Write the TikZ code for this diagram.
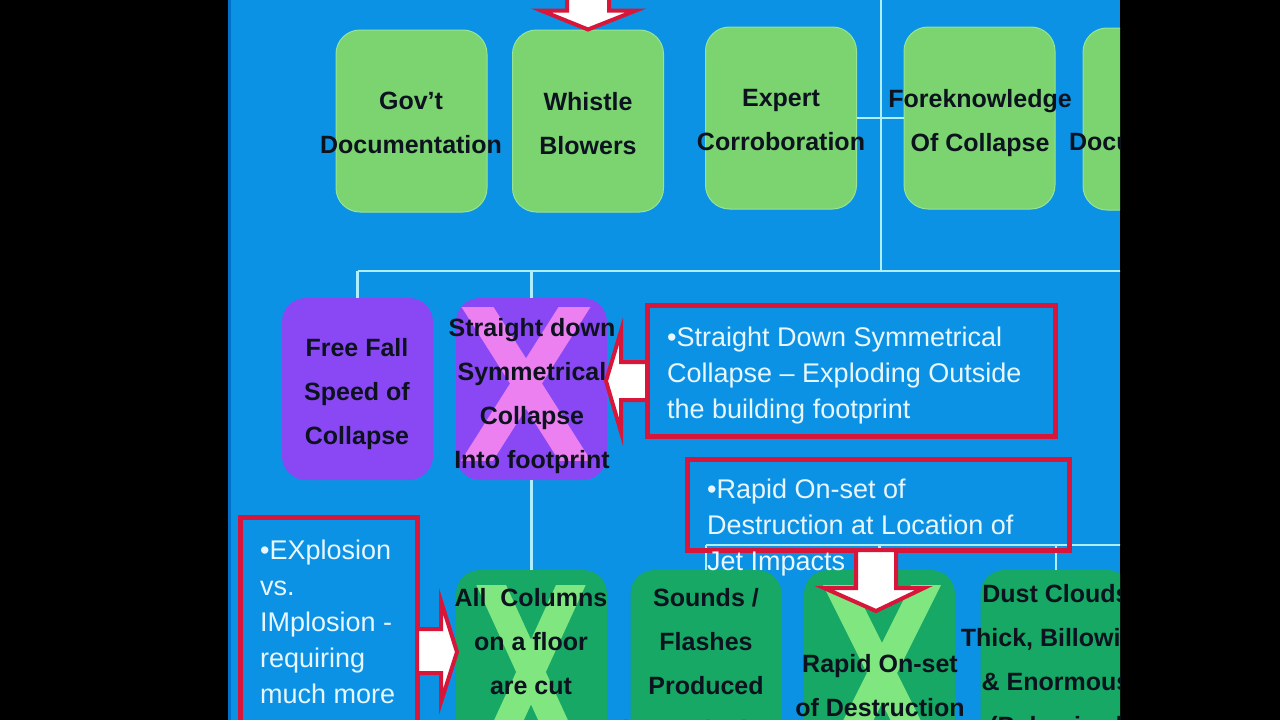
\documentclass[tikz,border=0pt]{standalone}
\usepackage{fontspec}
\setmainfont{Liberation Sans}
\definecolor{bg}{RGB}{12,146,228}
\definecolor{bgdark}{RGB}{0,112,200}
\definecolor{linec}{RGB}{175,238,255}
\definecolor{lgreen}{RGB}{124,212,112}
\definecolor{gedge}{RGB}{150,228,150}
\definecolor{purp}{RGB}{138,72,245}
\definecolor{pinkx}{RGB}{236,128,240}
\definecolor{dgreen}{RGB}{22,168,100}
\definecolor{lgx}{RGB}{128,230,128}
\definecolor{redc}{RGB}{215,22,58}
\definecolor{txt}{RGB}{12,18,30}
\definecolor{wtxt}{RGB}{232,246,255}
\begin{document}
\begin{tikzpicture}[x=1pt,y=-1pt,
  conn/.style={draw=linec,line width=2.5pt},
  roundbox/.style={rounded corners=24pt,minimum width=151pt,minimum height=182pt,inner sep=0pt},
  gbox/.style={roundbox,fill=lgreen,draw=gedge,line width=1pt},
  pbox/.style={roundbox,fill=purp},
  dbox/.style={roundbox,fill=dgreen},
  redbox/.style={draw=redc,line width=5pt,inner sep=0pt},
  btext/.style={font=\bfseries\fontsize{25}{44}\selectfont,text=txt,align=center,inner sep=0pt,anchor=north},
  wtext/.style={font=\fontsize{27}{36}\selectfont,text=wtxt,align=left,inner sep=0pt,anchor=north west},
  blockarrow/.style={fill=white,draw=redc,line width=4pt,line join=miter}
]
\useasboundingbox (0,0) rectangle (1280,720);
\fill[black] (0,0) rectangle (1280,720);
\begin{scope}
\clip (228,0) rectangle (1120,720);
\fill[bg] (228,0) rectangle (1120,720);
\draw[bgdark,line width=3pt] (229.5,0) -- (229.5,720);

% boxes
\node[gbox] (gov) at (411.5,121) {};
\node[gbox] (whistle) at (588,121) {};
\node[gbox] (expert) at (781,118) {};
\node[gbox] (fore) at (979.5,118) {};
\node[gbox] (docu) at (1158.5,119) {};

\node[pbox] (freefall) at (357.5,389) {};
\node[pbox] (straight) at (531.5,389) {};

\node[dbox] (allcol) at (531.5,661) {};
\node[dbox] (sounds) at (706,661) {};
\node[dbox] (rapid) at (879.5,661) {};
\node[dbox] (dust) at (1056,661) {};

% connectors
\coordinate (topin) at (881,0);
\coordinate (busL) at (357.5,271);
\coordinate (busR) at (1130,271);
\draw[conn] (topin) -- (topin |- busR);
\draw[conn] (busL) -- (busR);
\draw[conn] (busL) -- (freefall.north);
\draw[conn] (straight.north |- busL) -- (straight.north);
\draw[conn] (straight.south) -- (allcol.north);
\draw[conn] (expert.east) -- (fore.west);
\coordinate (bus2L) at (706,545);
\coordinate (bus2R) at (1130,545);
\draw[conn] (bus2L) -- (bus2R);
\draw[conn] (bus2L) -- (sounds.north);
\draw[conn] (rapid.north |- bus2L) -- (rapid.north);
\draw[conn] (dust.north |- bus2L) -- (dust.north);

% X overlays
\begin{scope}
\clip (461,307) rectangle (591,460);
\draw[pinkx,line width=27pt] (467.8,291.7) -- (584.2,475.3);
\draw[pinkx,line width=27pt] (584.2,291.7) -- (467.8,475.3);
\end{scope}
\begin{scope}
\clip (476,585) rectangle (586,759);
\draw[lgx,line width=27pt] (483.2,567.6) -- (578.8,776.4);
\draw[lgx,line width=27pt] (578.8,567.6) -- (483.2,776.4);
\end{scope}
\begin{scope}
\clip (822,585) rectangle (942,761);
\draw[lgx,line width=27pt] (829.2,567.4) -- (934.8,778.6);
\draw[lgx,line width=27pt] (934.8,567.4) -- (829.2,778.6);
\end{scope}

% box texts
\node[btext] (govt) at (411,91.7) {Gov’t\\Documentation};
\node[btext] (whistlet) at (588,91.7) {Whistle\\Blowers};
\node[btext] (expertt) at (781,88.7) {Expert\\Corroboration};
\node[btext] (foret) at (980,88.7) {Foreknowledge\\Of Collapse};
\node[btext] (docut) at (1160,131.7) {Documentation};
\node[btext] (freefallt) at (357,337.7) {Free Fall\\Speed of\\Collapse};
\node[btext] (straightt) at (532,317.7) {Straight down\\Symmetrical\\Collapse\\Into footprint};
\node[btext] (allcolt) at (531,587.7) {All\ \ Columns\\on a floor\\are cut};
\node[btext] (soundst) at (706,587.7) {Sounds /\\Flashes\\Produced\\by Explosives};
\node[btext] (rapidt) at (880,653.7) {Rapid On-set\\of Destruction};
\node[btext] (dustt) at (1056,583.7) {Dust Clouds\\Thick, Billowing\\\& Enormous\\(Pulverized};

% red boxes
\node[redbox,minimum width=408pt,minimum height=131pt] (boxA) at (851,370.5) {};
\node[redbox,minimum width=382pt,minimum height=91pt] (boxB) at (878,504.5) {};
\node[redbox,minimum width=177pt,minimum height=260pt] (boxC) at (328.5,647) {};
\node[wtext] (boxAt) at (667,327) {•Straight Down Symmetrical\\Collapse – Exploding Outside\\the building footprint};
\node[wtext] (boxBt) at (707,479) {•Rapid On-set of\\Destruction at Location of\\Jet Impacts};
\node[wtext] (boxCt) at (260,540) {•EXplosion\\vs.\\IMplosion -\\requiring\\much more};

% block arrows
\draw[blockarrow] (whistle.north) -- ++(-47,-19) -- ++(26,0) -- ++(0,-40) -- ++(42,0) -- ++(0,40) -- ++(27,0) -- cycle;
\draw[blockarrow] (606,381) -- (621,331) -- (621,362) -- (647,362) -- (647,400) -- (621,400) -- (621,432) -- cycle;
\draw[blockarrow] (457,652) -- (441,601) -- (441,629) -- (417,629) -- (417,673) -- (441,673) -- (441,702) -- cycle;
\draw[blockarrow] (876,611) -- (824,588) -- (856,588) -- (856,550) -- (896,550) -- (896,588) -- (924,588) -- cycle;
\end{scope}
\end{tikzpicture}
\end{document}
